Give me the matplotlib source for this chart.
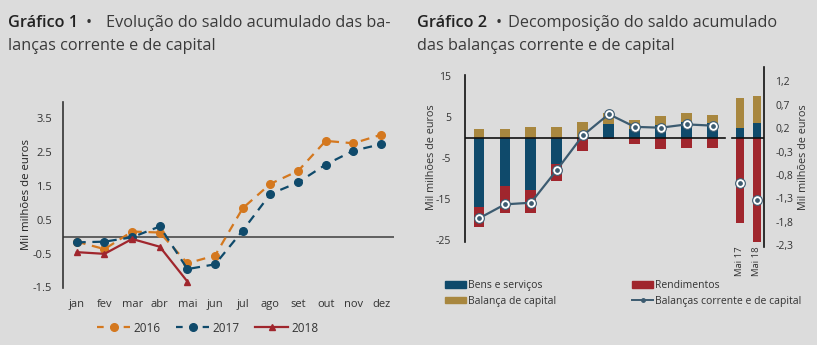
import matplotlib
matplotlib.use("Agg")
import matplotlib.pyplot as plt
from matplotlib.lines import Line2D
from matplotlib.patches import Patch
from matplotlib.ticker import FuncFormatter

plt.rcParams['font.family'] = ['Open Sans', 'DejaVu Sans']

# ---------------- data: Gráfico 1 ----------------
months = ['jan', 'fev', 'mar', 'abr', 'mai', 'jun', 'jul', 'ago', 'set', 'out', 'nov', 'dez']
s2016 = [-0.15, -0.37, 0.15, 0.12, -0.79, -0.56, 0.84, 1.56, 1.94, 2.83, 2.76, 3.01]
s2017 = [-0.17, -0.15, -0.02, 0.30, -0.96, -0.82, 0.18, 1.26, 1.60, 2.13, 2.54, 2.73]
s2018 = [-0.46, -0.51, -0.07, -0.30, -1.33]
g1_yticks = [-1.5, -0.5, 0.5, 1.5, 2.5, 3.5]

# ---------------- data: Gráfico 2 ----------------
years = ['2008', '2009', '2010', '2011', '2012', '2013', '2014', '2015', '2016', '2017']
bens = [-16.9, -11.8, -12.8, -6.5, 0.0, 3.3, 2.0, 3.05, 3.9, 3.6]
rend = [-5.0, -6.7, -5.5, -4.2, -3.2, -0.45, -1.7, -2.8, -2.6, -2.5]
capital = [2.2, 2.1, 2.5, 2.6, 3.8, 2.7, 2.3, 2.15, 2.0, 1.9]
saldo = [-19.7, -16.3, -15.9, -7.9, 0.5, 5.7, 2.6, 2.4, 3.2, 2.9]

mai_labels = ['Mai 17', 'Mai 18']
mai_bens = [0.20, 0.31]
mai_rend = [-1.83, -2.23]
mai_capital = [0.64, 0.58]
mai_saldo = [-0.98, -1.33]

g2_left_ticks = [-25, -15, -5, 5, 15]
g2_right_ticks = [-2.3, -1.8, -1.3, -0.8, -0.3, 0.2, 0.7, 1.2]

# ---------------- styles ----------------
BG = '#dcdcdc'
ORANGE = '#d4781f'
BLUE = '#0f4a6b'
RED = '#a0262d'
GOLD = '#a8873f'
LINEC = '#3c5b70'
TXT = '#3a3a3a'

W, H = 817, 345
fig = plt.figure(figsize=(W / 100, H / 100), dpi=100, facecolor=BG)


def fx(px):
    return px / W


def fy(py):
    return 1 - py / H


# ---------------- titles ----------------
tfs = 11.7
fig.text(fx(8), fy(27), 'Gráfico 1', fontsize=tfs, fontweight='semibold', color='#222222')
fig.text(fx(86), fy(27), '•', fontsize=tfs, color='#333333')
fig.text(fx(106), fy(27), 'Evolução do saldo acumulado das ba-', fontsize=tfs, color=TXT)
fig.text(fx(8), fy(50), 'lanças corrente e de capital', fontsize=tfs, color=TXT)

fig.text(fx(417), fy(27), 'Gráfico 2', fontsize=tfs, fontweight='semibold', color='#222222')
fig.text(fx(496), fy(27), '•', fontsize=tfs, color='#333333')
fig.text(fx(508), fy(27), 'Decomposição do saldo acumulado', fontsize=tfs, color=TXT)
fig.text(fx(417), fy(50), 'das balanças corrente e de capital', fontsize=tfs, color=TXT)

# ---------------- Gráfico 1 ----------------
ax1 = fig.add_axes([fx(63), fy(288), fx(394) - fx(63), fy(102) - fy(288)])
ax1.set_facecolor(BG)
ax1.patch.set_alpha(0)
x_m = list(range(len(months)))
ax1.set_xlim(-0.5, 11.47)
ax1.set_ylim(-1.52, 3.98)
ax1.axhline(0, color='#555555', lw=1.3, zorder=1)
ax1.plot(x_m, s2016, color=ORANGE, ls=(0, (4, 3)), lw=1.6, marker='o', ms=5.5, zorder=3)
ax1.plot(x_m, s2017, color=BLUE, ls=(0, (4, 3)), lw=1.6, marker='o', ms=5.5, zorder=3)
ax1.plot(x_m[:len(s2018)], s2018, color=RED, ls='-', lw=1.6, marker='^', ms=5, zorder=4)
for s in ['top', 'right', 'bottom']:
    ax1.spines[s].set_visible(False)
ax1.spines['left'].set_color('#333333')
ax1.spines['left'].set_linewidth(1.2)
ax1.set_yticks(g1_yticks)
ax1.set_yticklabels([f'{v:.1f}' for v in g1_yticks])
ax1.set_xticks(x_m)
ax1.set_xticklabels(months)
ax1.tick_params(axis='both', length=0, labelsize=8, colors='#333333')
ax1.tick_params(axis='y', pad=8)
ax1.tick_params(axis='x', pad=8)
ax1.set_ylabel('Mil milhões de euros', fontsize=8.2, color='#222222')
ax1.yaxis.set_label_coords((32 - 63) / 331, 0.5)

h2016 = Line2D([], [], color=ORANGE, ls=(0, (3, 3)), lw=1.6, marker='o', ms=5.5)
h2017 = Line2D([], [], color=BLUE, ls=(0, (3, 3)), lw=1.6, marker='o', ms=5.5)
h2018 = Line2D([], [], color=RED, ls='-', lw=1.6, marker='^', ms=5)
fig.legend([h2016, h2017, h2018], ['2016', '2017', '2018'], loc='center',
           bbox_to_anchor=(fx(208), fy(328)), ncol=3, frameon=False,
           fontsize=8.5, handlelength=2.8, handletextpad=0.3, columnspacing=1.3,
           labelcolor='#333333')

# ---------------- Gráfico 2 ----------------
ax2 = fig.add_axes([fx(465), fy(247), fx(764) - fx(465), fy(67) - fy(247)])
ax2.set_facecolor(BG)
ax2.patch.set_alpha(0)
ax2r = ax2.twinx()
ax2r.patch.set_alpha(0)

left_lim = (-26.7, 17.2)
scale = 11.4
ax2.set_xlim(-0.54, 10.98)
ax2.set_ylim(*left_lim)
ax2r.set_ylim(left_lim[0] / scale, left_lim[1] / scale)
ax2r.set_xlim(-0.54, 10.98)


def stacked(ax, xs, comps, colors, width):
    pos = [0.0] * len(xs)
    neg = [0.0] * len(xs)
    for vals, c in zip(comps, colors):
        bottoms = []
        for i, v in enumerate(vals):
            if v >= 0:
                bottoms.append(pos[i])
                pos[i] += v
            else:
                bottoms.append(neg[i])
                neg[i] += v
        ax.bar(xs, vals, width=width, bottom=bottoms, color=c, zorder=2, linewidth=0)


xy = list(range(len(years)))
stacked(ax2, xy, [bens, rend, capital], [BLUE, RED, GOLD], 0.42)
ax2.plot([-0.54, 9.48], [0, 0], color='#111111', lw=1.2, zorder=3)
ax2.plot(xy, saldo, color=LINEC, lw=1.6, zorder=4, marker='o', ms=7,
         mfc='white', mec=LINEC, mew=0.8)
ax2.plot(xy, saldo, ls='none', marker='o', ms=2.4, color=LINEC, zorder=5)

xm = [10.05, 10.7]
stacked(ax2r, xm, [mai_bens, mai_rend, mai_capital], [BLUE, RED, GOLD], 0.3)
ax2r.plot([9.73, 10.98], [0, 0], color='#111111', lw=1.2, zorder=3)
ax2r.plot(xm, mai_saldo, ls='none', marker='o', ms=7, mfc='white', mec=LINEC, mew=0.8, zorder=4)
ax2r.plot(xm, mai_saldo, ls='none', marker='o', ms=2.4, color=LINEC, zorder=5)

for a in (ax2, ax2r):
    for s in ['top', 'bottom']:
        a.spines[s].set_visible(False)
ax2.spines['right'].set_visible(False)
ax2r.spines['left'].set_visible(False)
ax2.spines['left'].set_bounds(-25.4, 15.3)
ax2.spines['left'].set_color('#111111')
ax2.spines['left'].set_linewidth(1.2)
ax2r.spines['right'].set_color('#111111')
ax2r.spines['right'].set_linewidth(1.2)

ax2.set_yticks(g2_left_ticks)
ax2.set_yticklabels([str(v) for v in g2_left_ticks])
ax2r.set_yticks(g2_right_ticks)
ax2r.yaxis.set_major_formatter(FuncFormatter(lambda v, p: f'{v:.1f}'.replace('.', ',')))
ax2.set_xticks(xy)
ax2.set_xticklabels(years)
ax2r.set_xticks([])
ax2.tick_params(axis='both', length=0, labelsize=7.5, colors='#333333')
ax2.tick_params(axis='y', pad=10)
ax2.tick_params(axis='x', pad=4)
ax2r.tick_params(axis='y', length=0, labelsize=7.5, colors='#333333', pad=8)
ax2.set_ylabel('Mil milhões de euros', fontsize=7.8, color='#333333')
ax2.yaxis.set_label_coords((437 - 465) / 299, 0.5)
ax2r.set_ylabel('Mil milhões de euros', fontsize=7.8, color='#333333')
ax2r.yaxis.set_label_coords((798 - 465) / 299, 0.5)

for xv, lab in zip(xm, mai_labels):
    ax2.text(xv, -26.5, lab, rotation=90, ha='center', va='top', fontsize=6.8,
             color='#333333')

hb = Patch(color=BLUE)
hr = Patch(color=RED)
hc = Patch(color=GOLD)
hl = Line2D([], [], color=LINEC, lw=1.4, marker='o', ms=2.5)
fig.legend([hb, hc, hr, hl],
           ['Bens e serviços', 'Balança de capital', 'Rendimentos', 'Balanças corrente e de capital'],
           loc='upper left', bbox_to_anchor=(fx(436), fy(271)), ncol=2, frameon=False,
           fontsize=7.5, handlelength=2.0, handleheight=0.6, handletextpad=0.2,
           columnspacing=7.3, labelspacing=0.4, labelcolor='#333333')

fig.savefig('out.png', dpi=100, facecolor=BG)
